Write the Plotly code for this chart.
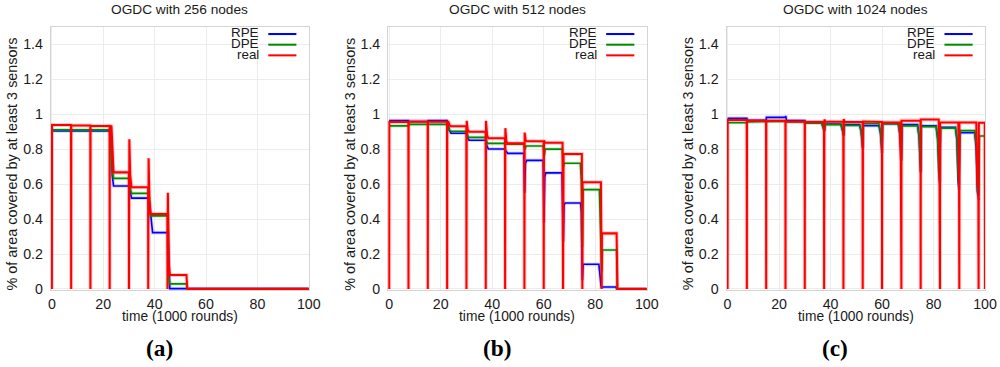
import plotly.graph_objects as go

# ---------------- data ----------------
X_TICKS = [0, 20, 40, 60, 80, 100]
Y_TICKS = [0, 0.2, 0.4, 0.6, 0.8, 1.0, 1.2, 1.4]
Y_TICK_TEXT = ["0", "0.2", "0.4", "0.6", "0.8", "1", "1.2", "1.4"]
PANEL_TITLES = ["OGDC with 256 nodes", "OGDC with 512 nodes", "OGDC with 1024 nodes"]
PANEL_LETTERS = ["(a)", "(b)", "(c)"]
SERIES_NAMES = ["RPE", "DPE", "real"]
X_TITLE = "time (1000 rounds)"
Y_TITLE = "% of area covered by at least 3 sensors"

# panel (a): 256 nodes  -- (time, value) pairs
A_RPE = [(0, 0.904), (22.6, 0.904), (23.0, 0.86), (23.5, 0.65), (24.0, 0.589), (30.3, 0.589),
         (30.6, 0.55), (31.0, 0.52), (37.8, 0.52), (38.2, 0.45), (38.7, 0.36), (39.2, 0.322),
         (45.2, 0.322), (45.5, 0.1), (45.9, 0.002), (100, 0.002)]
A_DPE = [(0, 0.91), (22.6, 0.91), (23.0, 0.87), (23.5, 0.68), (24.0, 0.633), (30.3, 0.633),
         (30.6, 0.57), (31.0, 0.547), (37.7, 0.547), (38.0, 0.46), (38.4, 0.418), (45.2, 0.418),
         (45.4, 0.1), (45.8, 0.029), (52.4, 0.029), (52.8, 0.0), (100, 0.0)]
A_REAL = [(0, 0), (0.05, 0.938), (7.45, 0.938), (7.5, 0), (7.55, 0.935), (14.95, 0.935), (15.0, 0),
          (15.05, 0.932), (22.45, 0.932), (22.5, 0), (22.55, 0.932), (23.2, 0.93), (23.6, 0.75),
          (24.0, 0.667), (29.95, 0.667), (30.0, 0), (30.15, 0.856), (30.5, 0.65), (31.0, 0.582),
          (37.45, 0.582), (37.5, 0), (37.65, 0.748), (38.0, 0.5), (38.4, 0.429), (44.95, 0.429),
          (45.0, 0), (45.15, 0.551), (45.5, 0.15), (45.9, 0.08), (52.4, 0.08), (52.7, 0), (100, 0)]

# panel (b): 512 nodes
B_RPE = [(0, 0.963), (7.5, 0.963), (7.6, 0.958), (15, 0.958), (15.1, 0.963), (22.5, 0.963),
         (22.8, 0.955), (23.3, 0.91), (24, 0.891), (30.2, 0.891), (30.5, 0.865), (31, 0.851),
         (37.6, 0.851), (37.9, 0.82), (38.5, 0.801), (44.9, 0.801), (45.3, 0.79), (46, 0.776),
         (52.3, 0.776), (52.6, 0.55), (52.9, 0.72), (53.4, 0.736), (59.8, 0.736), (60.1, 0.38),
         (60.4, 0.64), (60.8, 0.664), (67.1, 0.664), (67.6, 0.27), (67.9, 0.48), (68.3, 0.492),
         (74.3, 0.492), (74.6, 0.44), (75.0, 0.05), (75.3, 0.141), (81.4, 0.141), (81.9, 0.05),
         (82.3, 0.011), (88.0, 0.011), (88.4, 0), (100, 0)]
B_DPE = [(0, 0.933), (7.5, 0.933), (7.6, 0.942), (22.5, 0.942), (22.8, 0.935), (23.3, 0.91),
         (24, 0.902), (30.2, 0.902), (30.5, 0.875), (31, 0.867), (37.6, 0.867), (37.9, 0.84),
         (38.4, 0.833), (44.9, 0.833), (45.3, 0.828), (52.4, 0.828), (52.7, 0.80), (53.2, 0.818),
         (59.8, 0.818), (60.2, 0.76), (60.6, 0.80), (67.2, 0.80), (67.6, 0.70), (68.0, 0.719),
         (74.2, 0.719), (74.6, 0.62), (75.0, 0.24), (75.3, 0.568), (81.6, 0.568), (82.1, 0.3),
         (82.5, 0.10), (82.8, 0.223), (88.3, 0.223), (88.6, 0), (100, 0)]
B_REAL = [(0, 0), (0.05, 0.955), (7.45, 0.955), (7.5, 0), (7.55, 0.957), (14.95, 0.957), (15, 0),
          (15.05, 0.957), (22.45, 0.957), (22.5, 0), (22.55, 0.957), (23.0, 0.955), (23.5, 0.935),
          (24.0, 0.931), (29.95, 0.931), (30, 0), (30.1, 0.962), (30.5, 0.91), (31.0, 0.90),
          (37.45, 0.90), (37.5, 0), (37.6, 0.962), (38.0, 0.88), (38.5, 0.862), (44.95, 0.862),
          (45, 0), (45.1, 0.92), (45.5, 0.845), (46.0, 0.833), (52.45, 0.833), (52.5, 0),
          (52.6, 0.895), (53.0, 0.85), (53.5, 0.845), (59.95, 0.845), (60, 0), (60.1, 0.85),
          (60.5, 0.837), (67.3, 0.837), (67.5, 0), (67.7, 0.772), (74.8, 0.772), (75, 0),
          (75.1, 0.61), (82.2, 0.61), (82.5, 0), (82.6, 0.318), (88.3, 0.318), (88.6, 0), (100, 0)]

# panel (c): 1024 nodes
C_RPE = [(0, 0.976), (7.5, 0.976), (7.6, 0.965), (15, 0.965), (15.1, 0.982), (22.4, 0.982),
         (22.6, 0.99), (22.9, 0.965), (30, 0.963), (30.1, 0.955), (36.5, 0.955), (37.3, 0.92),
         (37.6, 0.905), (37.8, 0.944), (44.0, 0.944), (44.8, 0.9), (45.1, 0.877), (45.3, 0.94),
         (51.3, 0.94), (51.9, 0.9), (52.2, 0.85), (52.5, 0.806), (52.7, 0.934), (58.8, 0.934),
         (59.4, 0.89), (59.7, 0.82), (60.0, 0.777), (60.2, 0.946), (66.3, 0.946), (66.9, 0.89),
         (67.2, 0.78), (67.5, 0.733), (67.7, 0.94), (73.8, 0.94), (74.4, 0.87), (74.7, 0.71),
         (75.0, 0.666), (75.2, 0.933), (81.0, 0.933), (81.6, 0.86), (82.0, 0.66), (82.4, 0.605),
         (82.7, 0.925), (88.5, 0.925), (89.1, 0.85), (89.5, 0.62), (89.9, 0.566), (90.2, 0.894),
         (96.0, 0.894), (96.6, 0.8), (97.0, 0.56), (97.6, 0.509)]
C_DPE = [(0, 0.951), (7.5, 0.951), (7.6, 0.956), (15, 0.956), (15.1, 0.96), (22.5, 0.96),
         (22.7, 0.955), (30, 0.955), (30.1, 0.948), (36.5, 0.948), (37.3, 0.915), (37.6, 0.9),
         (37.8, 0.94), (44.0, 0.94), (44.8, 0.9), (45.1, 0.88), (45.3, 0.935), (51.3, 0.935),
         (51.9, 0.9), (52.2, 0.85), (52.5, 0.81), (52.7, 0.945), (58.8, 0.945), (59.4, 0.9),
         (59.7, 0.83), (60.0, 0.78), (60.2, 0.945), (66.3, 0.945), (66.9, 0.89), (67.2, 0.79),
         (67.5, 0.74), (67.7, 0.933), (73.8, 0.933), (74.4, 0.87), (74.7, 0.72), (75.0, 0.671),
         (75.2, 0.929), (81.0, 0.929), (81.6, 0.86), (82.0, 0.67), (82.4, 0.62), (82.7, 0.92),
         (88.5, 0.92), (89.1, 0.86), (89.5, 0.65), (89.9, 0.595), (90.2, 0.906), (96.0, 0.906),
         (96.6, 0.82), (97.0, 0.58), (97.6, 0.534), (97.8, 0.875), (100, 0.875)]
C_REAL = [(0, 0), (0.05, 0.967), (7.45, 0.967), (7.5, 0), (7.55, 0.963), (14.95, 0.963), (15, 0),
          (15.05, 0.963), (22.45, 0.963), (22.5, 0), (22.55, 0.96), (29.95, 0.958), (30, 0),
          (30.05, 0.957), (37.45, 0.955), (37.5, 0), (37.6, 0.97), (38.0, 0.957), (44.95, 0.957),
          (45, 0), (45.1, 0.972), (45.5, 0.957), (52.45, 0.955), (52.5, 0), (52.6, 0.958),
          (59.95, 0.955), (60, 0), (60.05, 0.953), (66.9, 0.953), (67.3, 0.74), (67.5, 0),
          (67.55, 0.963), (74.95, 0.963), (75, 0), (75.05, 0.97), (82.0, 0.97), (82.3, 0.675),
          (82.5, 0), (82.55, 0.953), (89.6, 0.953), (89.9, 0.62), (90, 0), (90.05, 0.952),
          (96.6, 0.952), (97.0, 0.6), (97.4, 0.576), (97.5, 0), (97.6, 0.951), (99.9, 0.951),
          (100, 0)]

PANELS = [(A_RPE, A_DPE, A_REAL), (B_RPE, B_DPE, B_REAL), (C_RPE, C_DPE, C_REAL)]

# ---------------- style ----------------
# positions are given in reference pixels (1000 x 367) and turned into paper fractions;
# the page is drawn slightly larger because the capture shrinks it a little.
F = 1.015
W, H = 1000, 367
PW, PH = 1012, 374
COLORS = ["#0000ff", "#008a00", "#ff0000"]
WIDTHS = [1.6, 1.6, 2.0]
HALO = ["rgba(0,0,255,0.16)", "rgba(0,138,0,0.16)", "rgba(255,0,0,0.2)"]
FONT = "Liberation Sans, Arial, Helvetica, sans-serif"
SERIF = "Liberation Serif, Times New Roman, serif"
X_DOM_PX = [(48, 306.7), (386.3, 645.7), (725.7, 985)]
Y_BOTTOM_PX, Y_TOP_PX = 290, 26.8

fig = go.Figure()
layout = dict(width=PW, height=PH, margin=dict(l=0, r=0, t=0, b=0),
              paper_bgcolor="white", plot_bgcolor="white", showlegend=False,
              annotations=[], shapes=[])

for i, series in enumerate(PANELS):
    sfx = "" if i == 0 else str(i + 1)
    xa, ya = "x" + sfx, "y" + sfx
    for k, pts in enumerate(series):
        t = [p[0] for p in pts]
        v = [p[1] for p in pts]
        fig.add_trace(go.Scatter(x=t, y=v, mode="lines", xaxis=xa, yaxis=ya,
                                 line=dict(color=HALO[k], width=(WIDTHS[k] + 2.0) * F),
                                 hoverinfo="skip"))
        fig.add_trace(go.Scatter(x=t, y=v, mode="lines", xaxis=xa, yaxis=ya,
                                 name=SERIES_NAMES[k],
                                 line=dict(color=COLORS[k], width=WIDTHS[k] * F)))
    x0, x1 = X_DOM_PX[i]
    dom = [x0 / W, x1 / W]
    layout["xaxis" + sfx] = dict(domain=dom, range=[-0.4, 100], anchor=ya,
                                 tickvals=X_TICKS, showgrid=True, gridcolor="#ececec",
                                 showline=True, mirror=True, linecolor="#d4d4d4", linewidth=1,
                                 zeroline=False, ticks="outside", ticklen=1,
                                 tickcolor="rgba(0,0,0,0)",
                                 tickfont=dict(family=FONT, size=14 * F, color="#1a1a1a"))
    layout["yaxis" + sfx] = dict(domain=[(H - Y_BOTTOM_PX) / H, (H - Y_TOP_PX) / H],
                                 range=[-0.006, 1.5], anchor=xa,
                                 tickvals=Y_TICKS, ticktext=Y_TICK_TEXT, showgrid=True,
                                 gridcolor="#ececec", showline=True, mirror=True,
                                 linecolor="#d4d4d4", linewidth=1, zeroline=False,
                                 ticks="outside", ticklen=4 * F, tickcolor="rgba(0,0,0,0)",
                                 tickfont=dict(family=FONT, size=14 * F, color="#1a1a1a"))
    cx = (x0 + x1) / 2 / W
    layout["annotations"].append(dict(text=PANEL_TITLES[i], xref="paper", yref="paper",
                                      x=cx, y=(H - 10) / H, xanchor="center", yanchor="middle",
                                      showarrow=False,
                                      font=dict(family=FONT, size=13.5 * F, color="#1a1a1a")))
    layout["annotations"].append(dict(text=X_TITLE, xref="paper", yref="paper",
                                      x=cx, y=(H - 316) / H, xanchor="center", yanchor="middle",
                                      showarrow=False,
                                      font=dict(family=FONT, size=13.6 * F, color="#1a1a1a")))
    layout["annotations"].append(dict(text=Y_TITLE, xref="paper", yref="paper", textangle=-90,
                                      x=(x0 - 38.5) / W, y=(H - 164) / H, xanchor="center",
                                      yanchor="middle", showarrow=False,
                                      font=dict(family=FONT, size=14.2 * F, color="#1a1a1a")))
    layout["annotations"].append(dict(text="<b>" + PANEL_LETTERS[i] + "</b>", xref="paper",
                                      yref="paper", x=(cx * W - 20.5) / W, y=(H - 348) / H,
                                      xanchor="center", yanchor="middle", showarrow=False,
                                      font=dict(family=SERIF, size=23 * F, color="black")))
    for k in range(3):
        ly = 0.9725 - 0.0405 * k
        layout["annotations"].append(dict(text=SERIES_NAMES[k], xref=xa + " domain",
                                          yref=ya + " domain", x=0.815, y=ly + 0.004,
                                          xanchor="right", yanchor="middle", showarrow=False,
                                          font=dict(family=FONT, size=13.2 * F, color="#1a1a1a")))
        layout["shapes"].append(dict(type="line", xref=xa + " domain", yref=ya + " domain",
                                     x0=0.843, x1=0.952, y0=ly, y1=ly,
                                     line=dict(color=COLORS[k], width=2 * F)))

fig.update_layout(**layout)

PAGE_FIX = (
    "var s=document.createElement('style');"
    "s.textContent='html,body{margin:0!important;padding:0!important;overflow:hidden!important;"
    "width:%dpx;height:%dpx;} body>div{width:%dpx;height:%dpx;overflow:hidden;}';"
    "document.head.appendChild(s);" % (PW, PH, PW, PH)
)
fig.write_html("out.html", config={"displayModeBar": False}, post_script=PAGE_FIX)
